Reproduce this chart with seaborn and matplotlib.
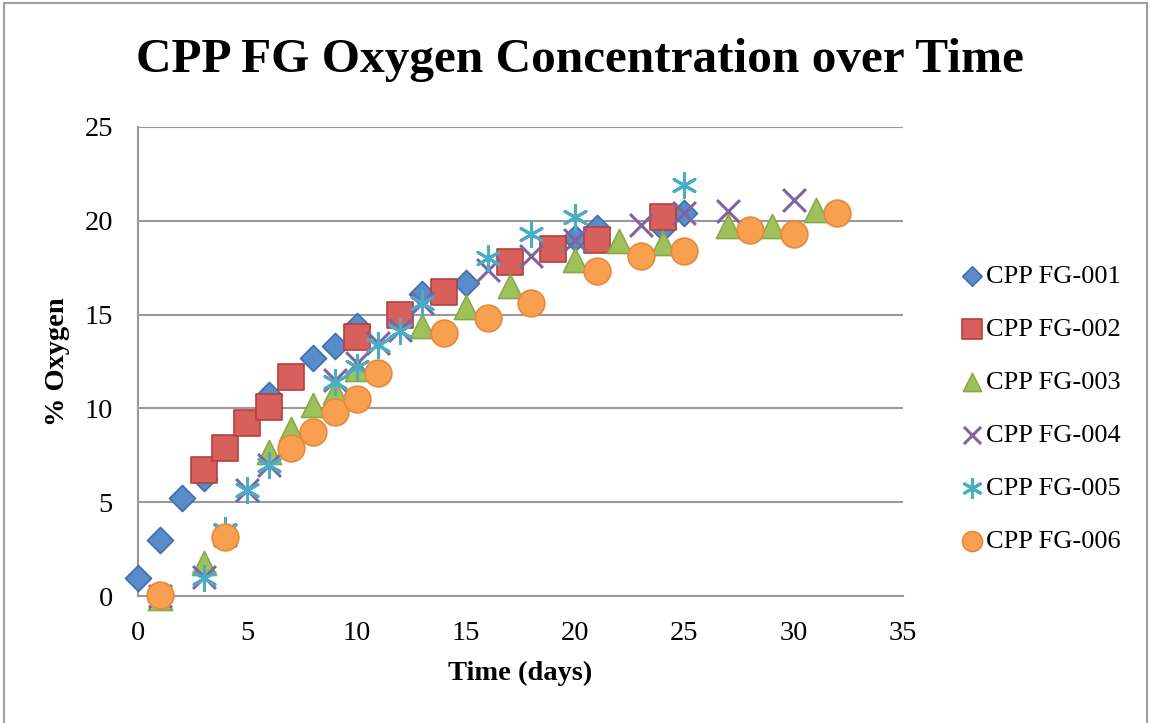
import matplotlib
matplotlib.use("Agg")
import matplotlib.pyplot as plt
import seaborn as sns
import pandas as pd
from matplotlib.patches import Rectangle

# ---------------- data ----------------
series_names = ["CPP FG-001", "CPP FG-002", "CPP FG-003",
                "CPP FG-004", "CPP FG-005", "CPP FG-006"]

days_001 = [0, 1, 2, 3, 6, 8, 9, 10, 13, 15, 20, 21, 24, 25]
o2_001 = [0.95, 3.0, 5.2, 6.3, 10.7, 12.7, 13.3, 14.4, 16.1, 16.7, 19.1, 19.6, 19.6, 20.4]

days_002 = [3, 4, 5, 6, 7, 10, 12, 14, 17, 19, 21, 24]
o2_002 = [6.7, 7.9, 9.2, 10.1, 11.7, 13.8, 15.0, 16.2, 17.8, 18.5, 19.0, 20.2]

days_003 = [1, 3, 6, 7, 8, 9, 10, 13, 15, 17, 20, 22, 24, 27, 29, 31]
o2_003 = [-0.1, 1.75, 7.7, 8.9, 10.2, 10.9, 12.1, 14.4, 15.4, 16.5, 17.9, 18.9, 18.8, 19.7, 19.7, 20.6]

days_004 = [1, 3, 4, 5, 6, 9, 10, 11, 12, 13, 16, 18, 20, 23, 25, 27, 30]
o2_004 = [0.0, 1.0, 3.25, 5.65, 7.0, 11.5, 12.4, 13.5, 14.2, 15.6, 17.4, 18.1, 19.0, 19.8, 20.4, 20.5, 21.1]

days_005 = [1, 3, 4, 5, 6, 9, 10, 11, 12, 13, 16, 18, 20, 25]
o2_005 = [0.0, 0.95, 3.5, 5.65, 7.0, 11.4, 12.2, 13.4, 14.1, 15.6, 18.0, 19.3, 20.2, 21.9]

days_006 = [1, 4, 7, 8, 9, 10, 11, 14, 16, 18, 21, 23, 25, 28, 30, 32]
o2_006 = [0.05, 3.15, 7.9, 8.75, 9.8, 10.5, 11.9, 14.0, 14.8, 15.6, 17.3, 18.1, 18.4, 19.5, 19.3, 20.4]

x_ticks = [0, 5, 10, 15, 20, 25, 30, 35]
y_ticks = [0, 5, 10, 15, 20, 25]

all_days = [days_001, days_002, days_003, days_004, days_005, days_006]
all_o2 = [o2_001, o2_002, o2_003, o2_004, o2_005, o2_006]

# ---------------- styles ----------------
styles = [
    dict(marker="D", s=175, color="#5A8BCA", edgecolor="#3F6FA8", linewidth=1.2),
    dict(marker="s", s=340, color="#D75F5C", edgecolor="#B53F3C", linewidth=1.2),
    dict(marker="^", s=300, color="#9FC15C", edgecolor="#88A84A", linewidth=1.2),
    dict(marker="x", s=270, color="#8064A2", linewidth=2.2),
    dict(marker=(6, 2, 0), s=300, color="#4BACC6", linewidth=2.2),
    dict(marker="o", s=370, color="#F8A04F", edgecolor="#E5893A", linewidth=1.2),
]

sns.set_style("white")
plt.rcParams["font.family"] = ["Liberation Serif", "DejaVu Serif"]
plt.rcParams["text.color"] = "black"
plt.rcParams["axes.labelcolor"] = "black"
plt.rcParams["xtick.color"] = "black"
plt.rcParams["ytick.color"] = "black"

fig = plt.figure(figsize=(11.51, 7.23), dpi=100)
ax = fig.add_axes([138 / 1151, 1 - 596 / 723, (903 - 138) / 1151, (596 - 127) / 723])

for name, d, v, st in zip(series_names, all_days, all_o2, styles):
    df = pd.DataFrame({"Time (days)": d, "% Oxygen": v})
    sns.scatterplot(data=df, x="Time (days)", y="% Oxygen", ax=ax, label=name,
                    clip_on=False, zorder=3, **st)

ax.set_xlim(0, 35)
ax.set_ylim(0, 25)
ax.set_xticks(x_ticks)
ax.set_yticks(y_ticks)
ax.tick_params(axis="both", length=0, labelsize=20.5, pad=18)
ax.yaxis.grid(True, color="#999999", linewidth=1.5)
ax.xaxis.grid(False)
ax.set_axisbelow(True)
for sp in ["top", "right"]:
    ax.spines[sp].set_visible(False)
for sp in ["left", "bottom"]:
    ax.spines[sp].set_color("#999999")
    ax.spines[sp].set_linewidth(1.5)

ax.set_xlabel("Time (days)", fontsize=20.5, fontweight="bold")
ax.set_ylabel("% Oxygen", fontsize=20.5, fontweight="bold")
ax.xaxis.set_label_coords(0.5, -0.138)
ax.yaxis.set_label_coords(-0.089, 0.5)

fig.suptitle("CPP FG Oxygen Concentration over Time", fontsize=35.5,
             fontweight="bold", x=580 / 1151, y=1 - 60 / 723, va="center")

handles, labels = ax.get_legend_handles_labels()
ax.legend(handles, labels, loc="center left",
          bbox_to_anchor=(938 / 1151, 1 - 408.5 / 723),
          bbox_transform=fig.transFigure, frameon=False, fontsize=19,
          markerscale=0.75, handlelength=0.8, handletextpad=0.1,
          labelspacing=1.12, borderpad=0.4)

fig.patches.append(Rectangle((4 / 1151, -0.05), (1147 - 4) / 1151, 1.05 - 3 / 723,
                             transform=fig.transFigure, fill=False,
                             edgecolor="#A0A0A0", linewidth=1.5))

fig.savefig("out.png", dpi=100)
